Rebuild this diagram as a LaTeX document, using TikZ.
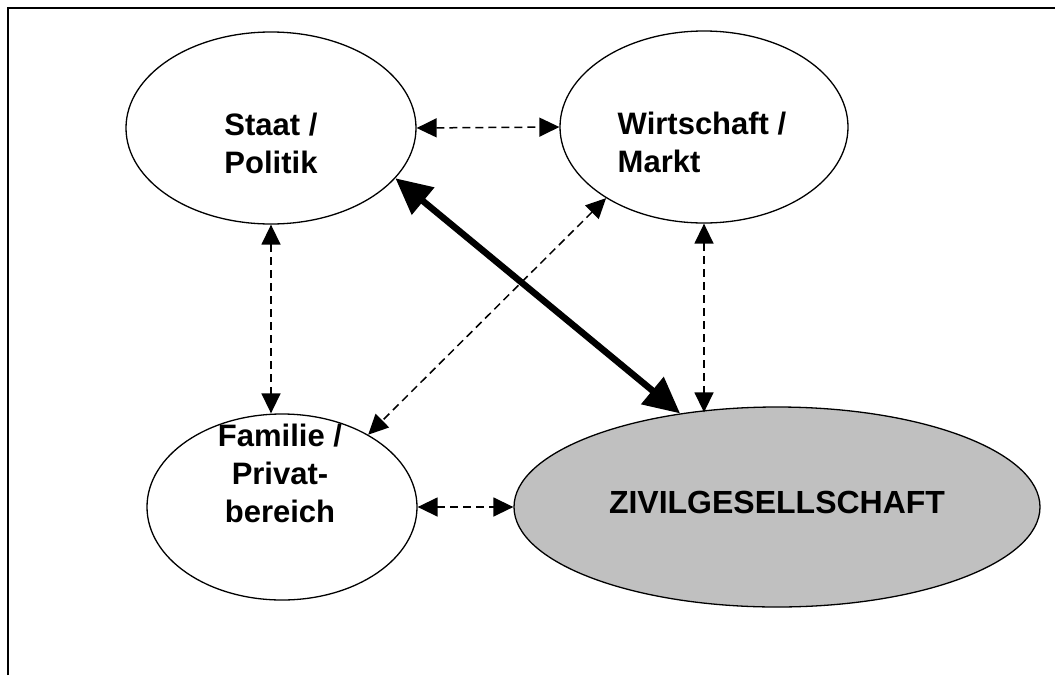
\documentclass[tikz,border=0pt]{standalone}
\usepackage{fontspec}
\setmainfont{Liberation Sans}
\usetikzlibrary{arrows.meta,shapes.geometric}
\definecolor{ZGray}{RGB}{192,192,192}

\begin{document}
\begin{tikzpicture}[x=1pt,y=-1pt,
  sector/.style={ellipse, draw, line width=1.3pt, inner sep=0pt},
  lbl/.style={font=\fontsize{31}{38}\selectfont\bfseries, inner sep=0pt},
  weak/.style={line width=1.5pt, dash pattern=on 8pt off 5pt, {Triangle[length=20pt,width=19pt]}-{Triangle[length=20pt,width=19pt]}},
  strong/.style={line width=6.5pt, {Triangle[length=36pt,width=34pt]}-{Triangle[length=36pt,width=34pt]}}]
\useasboundingbox (0,0) rectangle (1055,675);
\draw[line width=2pt] (8,675) -- (8,7.5) -- (1055,7.5);

\node[sector, minimum width=290pt, minimum height=192pt] (staat) at (271,128) {};
\node[sector, minimum width=288pt, minimum height=192pt] (wirt) at (704,127) {};
\node[sector, minimum width=270pt, minimum height=186pt] (fam) at (282,507) {};
\node[sector, fill=ZGray, minimum width=526pt, minimum height=200pt] (ziv) at (777,507) {};

\node[lbl, align=center] (staat-t) at (271,143) {Staat /\\Politik};
\node[lbl, align=left] (wirt-t) at (702,142) {Wirtschaft /\\Markt};
\node[lbl, align=center] (fam-t) at (280,473) {Familie /\\Privat-\\bereich};
\node[lbl, font=\fontsize{32}{38}\selectfont\bfseries] (ziv-t) at (777,502) {ZIVILGESELLSCHAFT};

\draw[weak] (staat.east) -- (wirt.west);
\draw[weak] (staat.south) -- (staat.south |- fam.north);
\draw[weak] (wirt.south) -- ([yshift=-6pt]wirt.south |- ziv.north);
\draw[weak] (wirt.216) -- (fam.40);
\draw[weak] (fam.east) -- (ziv.west);
\draw[strong] (staat.-22) -- (ziv.136);
\end{tikzpicture}
\end{document}
